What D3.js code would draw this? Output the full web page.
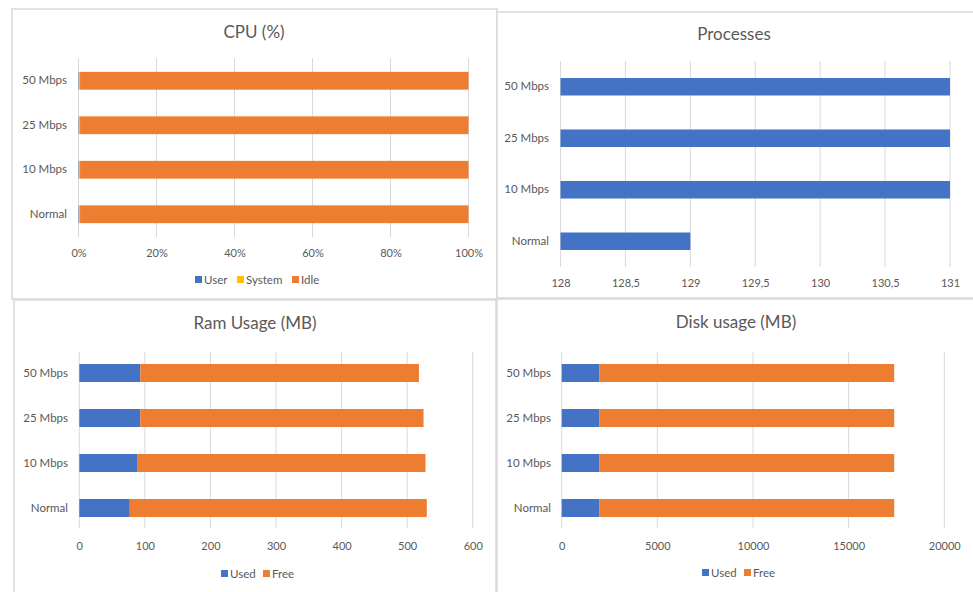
<!DOCTYPE html>
<html>
<head>
<meta charset="utf-8">
<script src="https://cdn.jsdelivr.net/npm/d3@7"></script>
<style>
  html, body { margin: 0; padding: 0; background: #fff; }
  svg { display: block; font-family: Lato, "Open Sans", sans-serif; }
</style>
</head>
<body>
<svg id="chart" width="973" height="592"></svg>
<script>
// Test conditions, listed top to bottom in every panel
const categories = ["50 Mbps", "25 Mbps", "10 Mbps", "Normal"];

// CPU share (%)
const cpuUser   = [0.1, 0.1, 0.1, 0.1];
const cpuSystem = [0.3, 0.3, 0.3, 0.3];
const cpuIdle   = [99.6, 99.6, 99.6, 99.6];
const cpuTicks  = [0, 20, 40, 60, 80, 100];

// Running processes
const processes = [131, 131, 131, 129];
const procTicks = [128, 128.5, 129, 129.5, 130, 130.5, 131];

// RAM (MB)
const ramUsed = [93, 93, 89, 77];
const ramFree = [425, 432, 439, 453];
const ramTicks = [0, 100, 200, 300, 400, 500, 600];

// Disk (MB)
const diskUsed = [1980, 1980, 1980, 1980];
const diskFree = [15400, 15400, 15400, 15400];
const diskTicks = [0, 5000, 10000, 15000, 20000];

const COLORS = { blue: "#4472C4", orange: "#ED7D31", yellow: "#FFC000" };
const TEXT = "#595959", GRID = "#d9d9d9";

const svg = d3.select("#chart");

// Panel frames
const frames = [
  { x: 12, y: 9, w: 485, h: 290 },
  { x: 497, y: 12, w: 490, h: 286 },
  { x: 14, y: 300, w: 482, h: 300 },
  { x: 497, y: 299, w: 490, h: 300 }
];
svg.selectAll("rect.frame").data(frames).join("rect")
  .attr("class", "frame")
  .attr("x", d => d.x).attr("y", d => d.y)
  .attr("width", d => d.w).attr("height", d => d.h)
  .attr("fill", "#fff").attr("stroke", GRID).attr("stroke-width", 1.5);

function drawPanel(p) {
  const g = svg.append("g");
  const x = d3.scaleLinear().domain(p.domain).range([p.x0, p.x1]);
  const y = d3.scaleBand().domain(categories).range([p.b0, p.b1]).paddingInner(p.pad).paddingOuter(p.pad / 2);

  // title
  g.append("text").attr("x", p.titleX).attr("y", p.titleY)
    .attr("text-anchor", "middle").attr("font-size", 17).attr("fill", TEXT)
    .text(p.title);

  // vertical gridlines
  g.append("g").selectAll("line").data(p.ticks).join("line")
    .attr("x1", d => x(d)).attr("x2", d => x(d))
    .attr("y1", p.y0).attr("y2", p.y1)
    .attr("stroke", GRID).attr("stroke-width", 1);

  // x axis labels
  const xAxis = d3.axisBottom(x).tickValues(p.ticks).tickSize(0).tickPadding(0).tickFormat(p.fmt);
  const ax = g.append("g").attr("transform", `translate(0,${p.tickY})`).call(xAxis);
  ax.select(".domain").remove();
  ax.selectAll("text").attr("fill", TEXT).attr("font-size", 11).attr("font-family", "Lato, sans-serif");

  // category labels
  const yAxis = d3.axisLeft(y).tickSize(0).tickPadding(0);
  const ay = g.append("g").attr("transform", `translate(${p.labelX},0)`).call(yAxis);
  ay.select(".domain").remove();
  ay.selectAll("text").attr("fill", TEXT).attr("font-size", 11.5).attr("font-family", "Lato, sans-serif");

  // stacked bars
  const rows = categories.map((c, i) => {
    const r = { cat: c };
    p.series.forEach(s => r[s.name] = s.values[i]);
    return r;
  });
  const stack = d3.stack().keys(p.series.map(s => s.name));
  const layers = stack(rows);
  layers.forEach((layer, k) => {
    g.append("g").selectAll("rect").data(layer).join("rect")
      .attr("x", d => x(Math.max(d[0], p.domain[0])))
      .attr("y", d => y(d.data.cat))
      .attr("width", d => Math.max(0, x(d[1]) - x(Math.max(d[0], p.domain[0]))))
      .attr("height", y.bandwidth())
      .attr("fill", p.series[k].color);
  });

  // legend
  if (p.legend) {
    const lg = g.append("g");
    p.series.forEach((s, k) => {
      const lx = p.legend[k];
      lg.append("rect").attr("x", lx).attr("y", p.legendY - 4).attr("width", 7).attr("height", 7).attr("fill", s.color);
      lg.append("text").attr("x", lx + 9).attr("y", p.legendY).attr("dy", "0.35em")
        .attr("font-size", 11.5).attr("fill", TEXT).text(s.name);
    });
  }
}

// CPU (%) — shares stacked to 100%
drawPanel({
  title: "CPU (%)", titleX: 254, titleY: 38,
  domain: [0, 100], x0: 78.5, x1: 468.5, y0: 58, y1: 237, b0: 58.5, b1: 236.5, pad: 0.6,
  ticks: cpuTicks, fmt: d => d + "%", tickY: 249, labelX: 67,
  series: [
    { name: "User", values: cpuUser, color: COLORS.blue },
    { name: "System", values: cpuSystem, color: COLORS.yellow },
    { name: "Idle", values: cpuIdle, color: COLORS.orange }
  ],
  legend: [195, 237, 292], legendY: 280
});

// Processes
drawPanel({
  title: "Processes", titleX: 734, titleY: 40,
  domain: [128, 131], x0: 560.5, x1: 950, y0: 61, y1: 267, b0: 61, b1: 267, pad: 0.66,
  ticks: procTicks, fmt: d => String(d).replace(".", ","), tickY: 279, labelX: 549,
  series: [{ name: "Processes", values: processes, color: COLORS.blue }],
  legend: null
});

// RAM usage
drawPanel({
  title: "Ram Usage (MB)", titleX: 255, titleY: 329,
  domain: [0, 600], x0: 79.3, x1: 472.7, y0: 352, y1: 528, b0: 350.5, b1: 530.5, pad: 0.6,
  ticks: ramTicks, fmt: d => d, tickY: 542, labelX: 68,
  series: [
    { name: "Used", values: ramUsed, color: COLORS.blue },
    { name: "Free", values: ramFree, color: COLORS.orange }
  ],
  legend: [221, 263], legendY: 574
});

// Disk usage
drawPanel({
  title: "Disk usage (MB)", titleX: 736, titleY: 328,
  domain: [0, 20000], x0: 561.7, x1: 944.3, y0: 352, y1: 528, b0: 350.5, b1: 530.5, pad: 0.6,
  ticks: diskTicks, fmt: d => d, tickY: 542, labelX: 551,
  series: [
    { name: "Used", values: diskUsed, color: COLORS.blue },
    { name: "Free", values: diskFree, color: COLORS.orange }
  ],
  legend: [702, 744], legendY: 573
});
</script>
</body>
</html>
